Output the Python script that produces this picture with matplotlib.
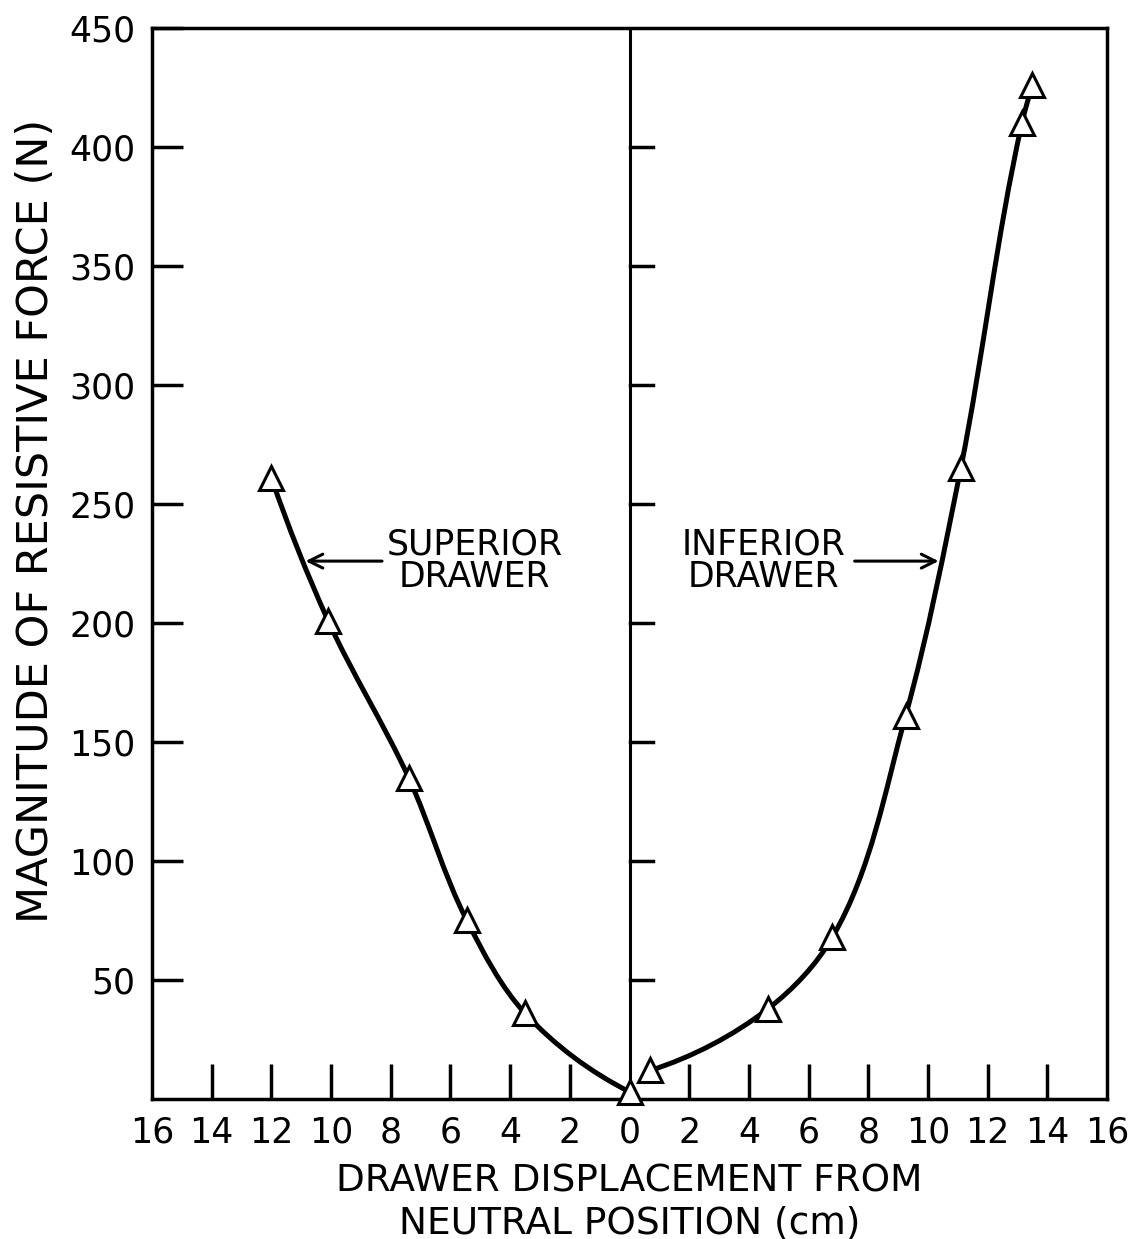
import numpy as np
import matplotlib.pyplot as plt
from matplotlib.path import Path
from matplotlib.patches import PathPatch

# Datos (desplazamiento en cm, fuerza en N)
sup_x = [-12.0, -10.1, -7.4, -5.45, -3.5, 0.0]
sup_y = [261, 201, 135, 75, 36, 3]
inf_x = [0.7, 4.65, 6.8, 9.25, 11.1, 13.15, 13.5]
inf_y = [12, 38, 68, 161, 265, 410, 426]

xticks = list(range(-16, 17, 2))
yticks = [50, 100, 150, 200, 250, 300, 350, 400, 450]

plt.rcParams['font.family'] = 'DejaVu Sans'


def smooth_path(ax, xs, ys):
    # curva suave (bezier) que pasa por los puntos, calculada en pixeles
    pts = ax.transData.transform(np.column_stack([xs, ys]))
    n = len(pts)
    d = np.diff(pts, axis=0)
    seg = np.hypot(d[:, 0], d[:, 1])
    u = d / seg[:, None]
    tang = np.zeros_like(pts)
    for i in range(1, n - 1):
        t = u[i - 1] + u[i]
        tang[i] = t / np.hypot(*t)
    t0 = 2 * u[0] - tang[1]
    tang[0] = t0 / np.hypot(*t0)
    tn = 2 * u[-1] - tang[-2]
    tang[-1] = tn / np.hypot(*tn)
    verts = [pts[0]]
    codes = [Path.MOVETO]
    for i in range(n - 1):
        c1 = pts[i] + tang[i] * seg[i] / 3
        c2 = pts[i + 1] - tang[i + 1] * seg[i] / 3
        verts += [c1, c2, pts[i + 1]]
        codes += [Path.CURVE4] * 3
    verts = ax.transData.inverted().transform(np.array(verts))
    return Path(verts, codes)


fig = plt.figure(figsize=(11.31, 12.39), dpi=100)
ax = fig.add_axes([0.1344, 0.1130, 0.8444, 0.8644])
ax.set_xlim(-16, 16)
ax.set_ylim(0, 450)

for s in ax.spines.values():
    s.set_linewidth(2.5)

# curvas
for xs, ys in [(sup_x, sup_y), (inf_x, inf_y)]:
    ax.add_patch(PathPatch(smooth_path(ax, xs, ys), fill=False, lw=3.6,
                           color='black', zorder=3, capstyle='round'))
    ax.plot(xs, ys, linestyle='none', marker='^', markersize=17,
            markerfacecolor='white', markeredgecolor='black',
            markeredgewidth=2.2, zorder=4, clip_on=False)

# linea central
ax.axvline(0, color='black', lw=2.2, zorder=2)

# ticks del eje y (izquierda hacia adentro) y en la linea central
ax.set_yticks(yticks)
ax.set_yticklabels([str(v) for v in yticks])
ax.tick_params(axis='y', direction='in', length=22, width=2.5,
               labelsize=25, pad=12)
for v in yticks[:-1]:
    ax.plot([0, 0.8], [v, v], color='black', lw=2.5, zorder=2)

# ticks del eje x
ax.set_xticks(xticks)
ax.set_xticklabels([str(abs(v)) for v in xticks])
ax.tick_params(axis='x', direction='in', length=25, width=2.5,
               labelsize=25, pad=12)
for t in ax.xaxis.get_major_ticks():
    if t.get_loc() in (-16, 0, 16):
        t.tick1line.set_visible(False)
ax.tick_params(top=False, right=False)

ax.set_xlabel('DRAWER DISPLACEMENT FROM\nNEUTRAL POSITION (cm)',
              fontsize=27, labelpad=10, linespacing=1.2)
ax.set_ylabel('MAGNITUDE OF RESISTIVE FORCE (N)', fontsize=31)
ax.yaxis.set_label_coords(-0.10, 0.54)

# etiquetas con flechas
ax.annotate('', xy=(-10.95, 226), xytext=(-8.2, 226),
            arrowprops=dict(arrowstyle='->', lw=2.2, color='black',
                            mutation_scale=25))
ax.text(-5.2, 226, 'SUPERIOR\nDRAWER', fontsize=25, ha='center',
        va='center', linespacing=0.95)
ax.annotate('', xy=(10.45, 226), xytext=(7.45, 226),
            arrowprops=dict(arrowstyle='->', lw=2.2, color='black',
                            mutation_scale=25))
ax.text(4.5, 226, 'INFERIOR\nDRAWER', fontsize=25, ha='center',
        va='center', linespacing=0.95)

fig.savefig('out.png', dpi=100)
